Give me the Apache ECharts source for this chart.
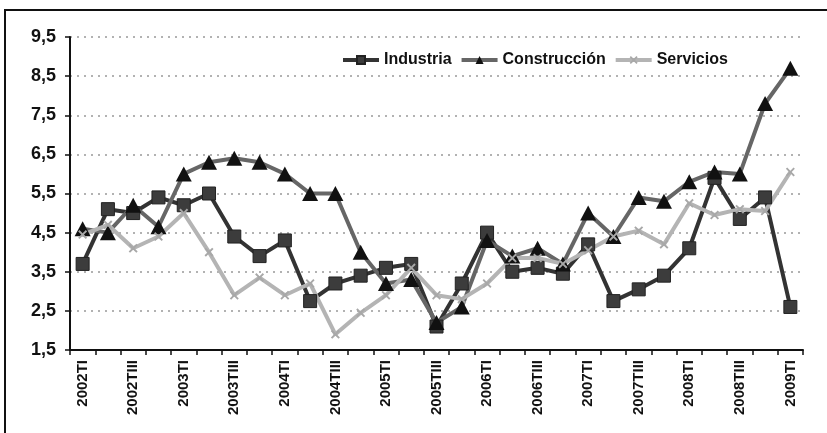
<!DOCTYPE html>
<html>
<head>
<meta charset="utf-8">
<script src="https://cdn.jsdelivr.net/npm/echarts@6/dist/echarts.min.js"></script>
<style>
html,body{margin:0;padding:0;background:#fff;}
#chart{width:827px;height:433px;}
</style>
</head>
<body>
<div id="chart"></div>
<script>
var categories = [
  '2002TI','2002TII','2002TIII','2002TIV',
  '2003TI','2003TII','2003TIII','2003TIV',
  '2004TI','2004TII','2004TIII','2004TIV',
  '2005TI','2005TII','2005TIII','2005TIV',
  '2006TI','2006TII','2006TIII','2006TIV',
  '2007TI','2007TII','2007TIII','2007TIV',
  '2008TI','2008TII','2008TIII','2008TIV',
  '2009TI'
];
var industria = [3.7,5.1,5.0,5.4,5.2,5.5,4.4,3.9,4.3,2.75,3.2,3.4,3.6,3.7,2.1,3.2,4.5,3.5,3.6,3.45,4.2,2.75,3.05,3.4,4.1,5.9,4.85,5.4,2.6];
var construccion = [4.6,4.5,5.2,4.65,6.0,6.3,6.4,6.3,6.0,5.5,5.5,4.0,3.2,3.3,2.2,2.6,4.3,3.9,4.1,3.7,5.0,4.4,5.4,5.3,5.8,6.05,6.0,7.8,8.7];
var servicios = [4.45,4.7,4.1,4.4,5.0,4.0,2.9,3.35,2.9,3.2,1.9,2.45,2.9,3.6,2.9,2.8,3.2,3.85,3.85,3.7,4.05,4.4,4.55,4.2,5.25,4.95,5.1,5.05,6.05];
var yTicks = [1.5,2.5,3.5,4.5,5.5,6.5,7.5,8.5,9.5];

var FONT = '"Liberation Sans", Arial, sans-serif';
var xSymbol = 'path://M0,1.5L1.5,0L5,3.5L8.5,0L10,1.5L6.5,5L10,8.5L8.5,10L5,6.5L1.5,10L0,8.5L3.5,5Z';

var chart = echarts.init(document.getElementById('chart'), null, {renderer:'canvas'});
chart.setOption({
  backgroundColor:'#fff',
  animation:false,
  graphic:[{
    type:'rect', silent:true, z:-1,
    shape:{x:5,y:10,width:840,height:440},
    style:{fill:'none',stroke:'#111',lineWidth:2}
  }],
  legend:{
    left:336, top:47,
    itemWidth:36, itemHeight:10, itemGap:8,
    lineStyle:{width:4},
    textStyle:{fontFamily:FONT,fontWeight:'bold',fontSize:16,color:'#111'},
    data:['Industria','Construcción','Servicios']
  },
  grid:{left:70,right:24,top:37,bottom:83,containLabel:false},
  xAxis:{
    type:'category',
    data:categories,
    boundaryGap:true,
    axisLine:{lineStyle:{color:'#111',width:2}},
    axisTick:{show:true,interval:0,length:5,lineStyle:{color:'#111',width:1.5}},
    axisLabel:{interval:1,rotate:90,margin:10,fontFamily:FONT,fontWeight:'bold',fontSize:15,color:'#111'},
    splitLine:{show:false}
  },
  yAxis:{
    type:'value',
    min:1.5,max:9.5,
    axisLine:{show:true,lineStyle:{color:'#111',width:2}},
    axisTick:{show:true,length:5,customValues:yTicks,lineStyle:{color:'#111',width:1.5}},
    axisLabel:{customValues:yTicks,margin:14,fontFamily:FONT,fontWeight:'bold',fontSize:18,color:'#111',
      formatter:function(v){return v.toFixed(1).replace('.',',');}},
    splitLine:{show:true,lineStyle:{color:'#999',width:1.5,type:[2,5]}}
  },
  series:[
    {name:'Industria',type:'line',data:industria,
      symbol:'rect',symbolSize:13,
      lineStyle:{color:'#333',width:4},
      itemStyle:{color:'#3c3c3c',borderColor:'#222',borderWidth:1}},
    {name:'Construcción',type:'line',data:construccion,
      symbol:'triangle',symbolSize:[16,15],
      lineStyle:{color:'#666',width:4},
      itemStyle:{color:'#111'}},
    {name:'Servicios',type:'line',data:servicios,
      symbol:xSymbol,symbolSize:9,
      lineStyle:{color:'#b4b4b4',width:4},
      itemStyle:{color:'#a8a8a8'}}
  ]
});
</script>
</body>
</html>
